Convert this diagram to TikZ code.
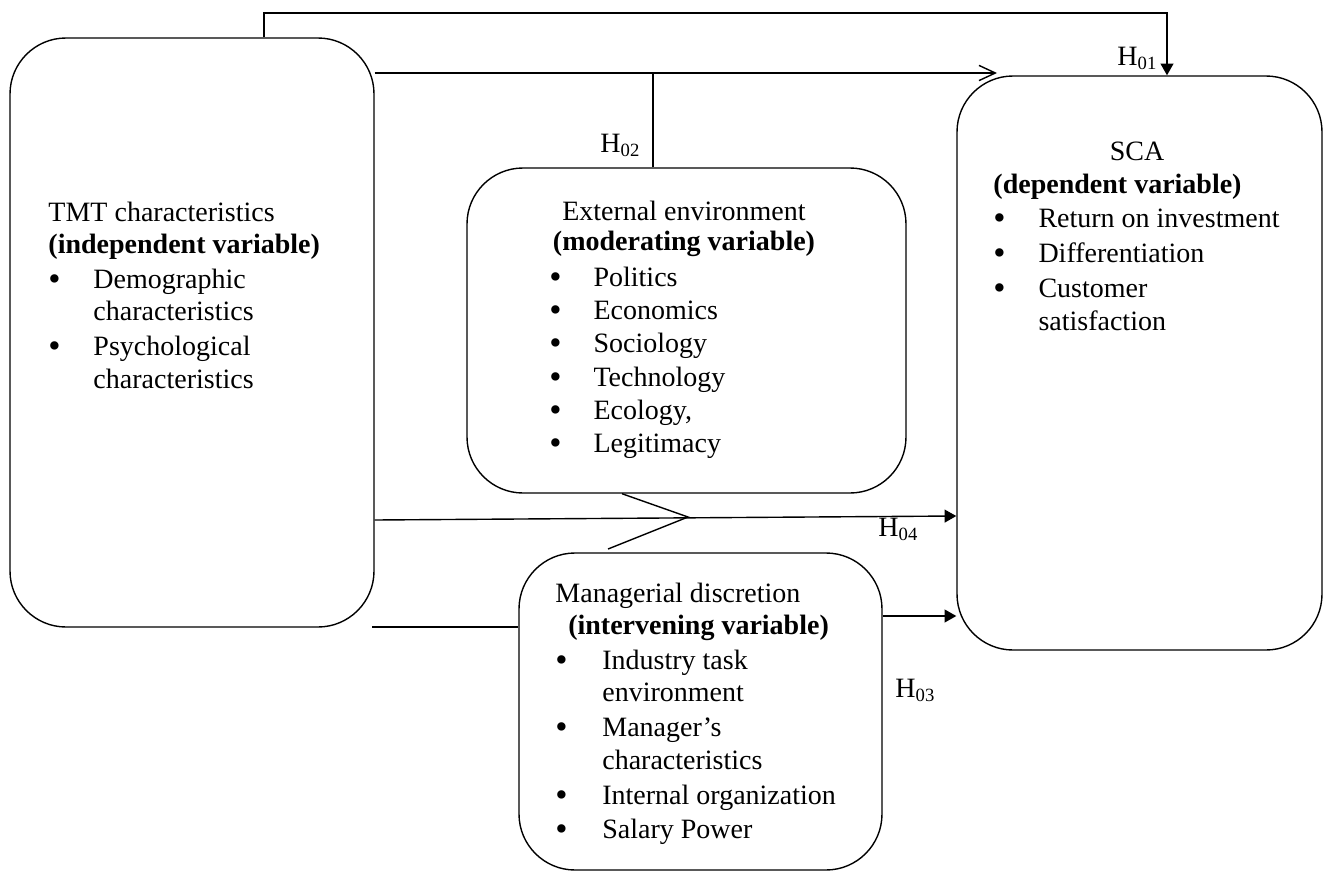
\documentclass[tikz,border=0pt]{standalone}
\usepackage{fontspec}
\setmainfont{Liberation Serif}
\usetikzlibrary{arrows.meta,calc}

\newcommand{\px}{0.4286pt}
\newcommand{\bul}{\raisebox{-0.9pt}{\fontsize{15}{15}\selectfont\textbullet}}

\tikzset{
  varbox/.style={draw, line width=0.6pt, rounded corners=24pt, inner sep=0pt},
  link/.style={line width=0.6pt},
  solidtip/.style={link, -{Triangle[length=5pt,width=5.5pt]}},
  opentip/.style={link, -{Straight Barb[length=7pt,width=6.5pt]}},
  hlabel/.style={anchor=base west, inner sep=0pt, font=\fontsize{12}{14}\selectfont},
  boxtext/.style={anchor=base west, inner sep=0pt, font=\fontsize{12}{13.93}\selectfont},
}

\begin{document}
\begin{tikzpicture}[x=0.4286pt, y={(0pt,-0.4286pt)}]
\path[use as bounding box, fill=white] (0,0) rectangle (1328,874);

% boxes
\node[varbox, minimum width=364*\px, minimum height=589*\px] (tmt) at (192,332.5) {};
\node[varbox, minimum width=439*\px, minimum height=325*\px] (ext) at (686.5,330.5) {};
\node[varbox, minimum width=363*\px, minimum height=317*\px] (mgr) at (700.5,711.5) {};
\node[varbox, minimum width=365*\px, minimum height=574*\px] (sca) at (1139.5,363) {};

% texts
\node[boxtext] (tmtText) at (48,221) {\begin{tabular}[t]{@{}p{19.3pt}@{}l@{}}
\multicolumn{2}{@{}l@{}}{TMT characteristics}\\
\multicolumn{2}{@{}l@{}}{\textbf{(independent variable)}}\\[1pt]
\bul & Demographic\\
 & characteristics\\[1pt]
\bul & Psychological\\
 & characteristics
\end{tabular}};

\node[boxtext, anchor=base, font=\fontsize{12}{13}\selectfont] (extTitle) at (684,220) {\begin{tabular}[t]{@{}c@{}}
External environment\\
\textbf{(moderating variable)}
\end{tabular}};
\node[boxtext, font=\fontsize{12}{14.3}\selectfont] (extList) at (549,286) {\begin{tabular}[t]{@{}p{18.9pt}@{}l@{}}
\bul & Politics\\
\bul & Economics\\
\bul & Sociology\\
\bul & Technology\\
\bul & Ecology,\\
\bul & Legitimacy
\end{tabular}};

\node[boxtext, anchor=base] (scaTitle) at (1137,160) {SCA};
\node[boxtext] (scaText) at (993,193) {\begin{tabular}[t]{@{}p{19.3pt}@{}l@{}}
\multicolumn{2}{@{}l@{}}{\textbf{(dependent variable)}}\\[1pt]
\bul & Return on investment\\[1pt]
\bul & Differentiation\\[1pt]
\bul & Customer\\
 & satisfaction
\end{tabular}};

\node[boxtext] (mgrText) at (555,602) {\begin{tabular}[t]{@{}p{20.1pt}@{}l@{}}
\multicolumn{2}{@{}l@{}}{Managerial discretion}\\
\multicolumn{2}{@{}l@{}}{\hspace{5.5pt}\textbf{(intervening variable)}}\\[1pt]
\bul & Industry task\\
 & environment\\[1pt]
\bul & Manager’s\\
 & characteristics\\[1pt]
\bul & Internal organization\\[1pt]
\bul & Salary Power
\end{tabular}};

% connector ends
\coordinate (topL) at (264,13);
\coordinate (topR) at (1167,13);
\coordinate (modL) at (374,73);
\coordinate (modR) at (997,73);
\coordinate (h2top) at (653,73);
\coordinate (h4L) at (374,520);
\coordinate (h4R) at (958,516);
\coordinate (chA) at (622,493);
\coordinate (chT) at (688,517);
\coordinate (chB) at (608,549);
\coordinate (h3L) at (372,627);
\coordinate (h3R) at (882,616);

% connectors
\draw[solidtip] (tmt.north -| topL) -- (topL) -- (topR) -- (sca.north -| topR);
\draw[opentip] (tmt.east |- modL) -- (modR);
\draw[link] (ext.north -| h2top) -- (h2top);
\draw[solidtip] (tmt.east |- h4L) -- (sca.west |- h4R);
\draw[link] (ext.south -| chA) -- (chT) -- (chB);
\draw[link] (h3L) -- (mgr.west |- h3L);
\draw[solidtip] (mgr.east |- h3R) -- (sca.west |- h3R);

% hypotheses
\node[hlabel] (h01) at (1117,65) {H\textsubscript{01}};
\node[hlabel] (h02) at (600,152) {H\textsubscript{02}};
\node[hlabel] (h04) at (878,536) {H\textsubscript{04}};
\node[hlabel] (h03) at (895,697) {H\textsubscript{03}};

\end{tikzpicture}
\end{document}
